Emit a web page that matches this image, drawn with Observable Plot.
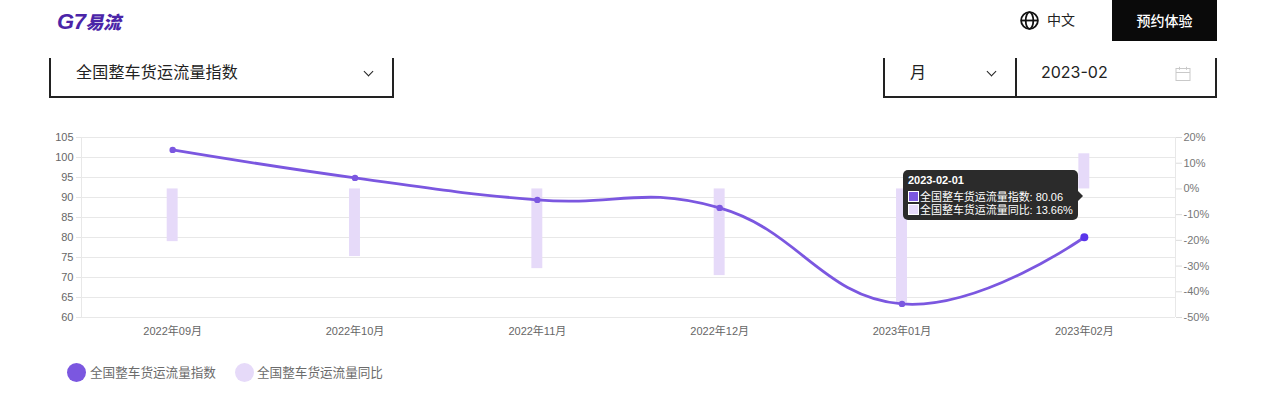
<!DOCTYPE html>
<html lang="zh">
<head>
<meta charset="utf-8">
<script src="https://cdn.jsdelivr.net/npm/d3@7"></script>
<script src="https://cdn.jsdelivr.net/npm/@observablehq/plot@0.6"></script>
<style>
  html,body{margin:0;padding:0;background:#fff;width:1266px;height:414px;overflow:hidden;
    font-family:"Liberation Sans","Noto Sans CJK SC",sans-serif}
  #page{position:relative;width:1266px;height:414px}
  #chart{position:absolute;left:0;top:0}
  .abs{position:absolute;white-space:nowrap}
  .logo{left:57px;top:8px;font:italic 800 18px/26px "Noto Sans CJK SC";color:#4b25a8;letter-spacing:-.6px}
  .logo b{font:italic 700 22px/26px "Liberation Sans";letter-spacing:-.4px}
  .btn{left:1112px;top:0;width:105px;height:41px;background:#0a0a0a;color:#fff;text-align:center;
    font:500 14px/41px "Noto Sans CJK SC"}
  .lang{left:1047px;top:9px;font:14px/20px "Noto Sans CJK SC";color:#222}
  .sel{font:16px/24px "Noto Sans CJK SC";color:#222;letter-spacing:.2px}
  .box{border:solid #222;border-width:0 2px 2px 2px;box-sizing:border-box}
  .chev{width:6px;height:6px;border:solid #222;border-width:0 1.7px 1.7px 0;transform:rotate(45deg)}
  .date{font:16px/24px Inter;color:#222}
  .tip{left:903px;top:170px;width:175px;height:50px;background:#2b2b2b;border-radius:5px;color:#fff;
    font:11px/12px "Liberation Sans","Noto Sans CJK SC";letter-spacing:-.04px}
  .tip .arrow{position:absolute;right:-5px;top:21px;border-left:5px solid #2b2b2b;border-top:5px solid transparent;border-bottom:5px solid transparent}
  .tip .t{position:absolute;left:5px;top:4px;font-weight:700}
  .tip .r{position:absolute;left:17px;white-space:nowrap}
  .tip .s{position:absolute;left:5px;border:1px solid #fff;width:9px;height:9px}
  .lg{font:12.6px/18px "Noto Sans CJK SC";color:#6b6b6b}
  .dot{width:19px;height:19px;border-radius:50%}
</style>
</head>
<body>
<div id="page"><div id="chart"></div></div>
<script>
const months = ["2022年09月","2022年10月","2022年11月","2022年12月","2023年01月","2023年02月"];
const indexValues = [101.9, 94.9, 89.4, 87.4, 63.4, 80.06];
const yoyValues = [-20.5, -26.3, -31, -33.7, -44.3, 13.66];
const indexTicks = [60,65,70,75,80,85,90,95,100,105];
const yoyTicks = [-50,-40,-30,-20,-10,0,10,20];
const seriesNames = ["全国整车货运流量指数","全国整车货运流量同比"];
const colors = {index:"#7b57e0", hover:"#5a35ea", yoy:"#e6daf9"};
const tooltipDate = "2023-02-01";

const rows = months.map((m,i)=>({month:m,index:indexValues[i],yoy:yoyValues[i]}));
// Right axis (percent) shares the pixel range of the left axis (index)
const yoyToIndex = d3.scaleLinear([-50,20],[60,105]);

const barInset = 85.7;
const chart = Plot.plot({
  width:1266, height:345,
  marginLeft:81, marginRight:91, marginTop:137, marginBottom:28,
  style:{fontFamily:'"Liberation Sans","Noto Sans CJK SC",sans-serif',background:"transparent"},
  x:{type:"band",domain:months,padding:0,round:false,label:null},
  y:{domain:[60,105],label:null},
  marks:[
    Plot.ruleY(indexTicks,{stroke:"#e8e8e8",strokeWidth:1}),
    Plot.ruleX([months[0]],{x:()=>months[0],dx:-91.15,stroke:"#e8e8e8"}),
    Plot.ruleX([months[5]],{x:()=>months[5],dx:91.15,stroke:"#e8e8e8"}),
    Plot.axisY(indexTicks,{anchor:"left",label:null,tickSize:5,tickPadding:3,stroke:"#e6e6e6",color:"#666",fontSize:11,tickFormat:d=>d}),
    Plot.axisY(yoyTicks.map(yoyToIndex),{anchor:"right",label:null,tickSize:6,tickPadding:2,stroke:"#dcdcdc",color:"#777",fontSize:11,
      tickFormat:d=>Math.round(yoyToIndex.invert(d))+"%"}),
    Plot.axisX(months,{anchor:"bottom",label:null,tickSize:0,tickPadding:10,color:"#666",fontSize:11}),
    Plot.rectY(rows,{x:"month",y1:()=>yoyToIndex(0),y2:d=>yoyToIndex(d.yoy),fill:colors.yoy,insetLeft:barInset,insetRight:barInset}),
    Plot.line(rows,{x:"month",y:"index",stroke:colors.index,strokeWidth:2.8,curve:"cardinal",tension:-0.3}),
    Plot.dot(rows.slice(0,5),{x:"month",y:"index",r:3.2,fill:colors.index}),
    Plot.dot(rows.slice(5),{x:"month",y:"index",r:4,fill:colors.hover})
  ]
});
const page = document.getElementById("page");
document.getElementById("chart").append(chart);

function add(cls,css,html){const e=document.createElement("div");e.className="abs "+cls;e.style.cssText=css;e.innerHTML=html||"";page.append(e);return e;}

add("logo","","<b>G7</b>易流");
add("","left:1020px;top:11px;width:19px;height:19px",
 '<svg width="19" height="19" viewBox="0 0 19 19" fill="none" stroke="#111" stroke-width="1.8"><circle cx="9.5" cy="9.5" r="8.4"/><ellipse cx="9.5" cy="9.5" rx="3.8" ry="8.4"/><path d="M1 9.5h17"/></svg>');
add("lang","","中文");
add("btn","","预约体验");

add("box","left:49px;top:58px;width:345px;height:40px");
add("sel","left:76px;top:59px",seriesNames[0]);
add("chev","left:365px;top:68px");

add("box","left:883px;top:58px;width:334px;height:40px");
add("","left:1015px;top:58px;width:2px;height:40px;background:#222");
add("sel","left:910px;top:59px","月");
add("chev","left:988px;top:68px");
add("date","left:1041px;top:60px","2023-02");
add("","left:1175px;top:66px;width:16px;height:16px",
 '<svg width="16" height="16" viewBox="0 0 16 16" fill="none" stroke="#c9c9c9" stroke-width="1"><rect x="1" y="2.5" width="14" height="12"/><path d="M1 6.5h14M4.5 .8v3M11.5 .8v3"/></svg>');

const last = rows[rows.length-1];
add("tip","",
 `<div class="arrow"></div><div class="t">${tooltipDate}</div>
  <div class="s" style="top:21px;background:${colors.index}"></div><div class="r" style="top:21px">${seriesNames[0]}: ${last.index.toFixed(2)}</div>
  <div class="s" style="top:34px;background:${colors.yoy}"></div><div class="r" style="top:34px">${seriesNames[1]}: ${last.yoy.toFixed(2)}%</div>`);

add("dot",`left:67px;top:363px;background:${colors.index}`);
add("lg","left:90px;top:363px",seriesNames[0]);
add("dot",`left:235px;top:363px;background:${colors.yoy}`);
add("lg","left:257px;top:363px",seriesNames[1]);
</script>
</body>
</html>
